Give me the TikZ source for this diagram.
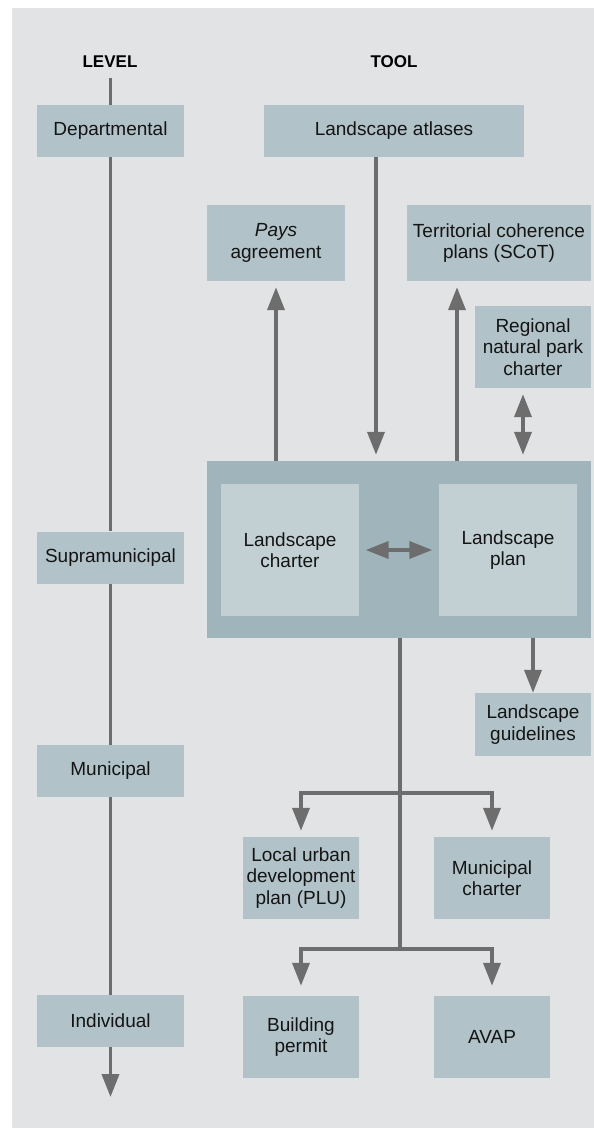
\documentclass[tikz,border=0pt]{standalone}
\usepackage{fontspec}
\setmainfont{Liberation Sans}
\usetikzlibrary{arrows.meta}
\definecolor{bgcol}{HTML}{E1E3E5}
\definecolor{boxcol}{HTML}{B1C3C9}
\definecolor{framecol}{HTML}{9FB5BB}
\definecolor{innercol}{HTML}{C2D0D4}
\definecolor{linecol}{HTML}{6D6D6D}
\definecolor{txtcol}{HTML}{141414}
\tikzset{
  lbl/.style={font=\fontsize{17}{20}\selectfont\bfseries, text=black},
  stepbox/.style={fill=boxcol, inner sep=0pt, align=center, text=txtcol,
    font=\fontsize{19}{21.5}\selectfont},
  conn/.style={draw=linecol, line width=3.8pt},
  arr/.style={conn, -{Triangle[length=23pt,width=17pt]}},
  darr/.style={conn, {Triangle[length=23pt,width=17pt]}-{Triangle[length=23pt,width=17pt]}}
}
\begin{document}
\begin{tikzpicture}[x=1pt,y=-1pt]
\useasboundingbox (0,0) rectangle (594,1128);
\fill[bgcol] (12,8) rectangle (594,1128);

% column headings
\node[lbl] (level) at (110,62) {LEVEL};
\node[lbl] (tool) at (394,62) {TOOL};

% level column
\node[stepbox, minimum width=147pt, minimum height=52pt] (dept) at (110.5,131) {Departmental};
\node[stepbox, minimum width=147pt, minimum height=52pt] (supra) at (110.5,557.5) {Supramunicipal};
\node[stepbox, minimum width=147pt, minimum height=52pt] (muni) at (110.5,771) {Municipal};
\node[stepbox, minimum width=147pt, minimum height=52pt] (indiv) at (110.5,1021) {Individual};
\coordinate (lvtop) at (110.5,78);
\coordinate (lvend) at (110.5,1097);

% tool column
\node[stepbox, minimum width=260pt, minimum height=52pt] (atlas) at (394,131) {Landscape atlases};
\node[stepbox, minimum width=138pt, minimum height=76pt] (pays) at (276,243) {\itshape Pays\\agreement};
\node[stepbox, minimum width=184pt, minimum height=76pt] (scot) at (499,243) {Territorial coherence\\plans (SCoT)};
\node[stepbox, minimum width=116pt, minimum height=82pt] (park) at (533,347) {Regional\\natural park\\charter};

\node[fill=framecol, inner sep=0pt, minimum width=384pt, minimum height=177pt] (frame) at (399,549.5) {};
\node[stepbox, fill=innercol, minimum width=138pt, minimum height=132pt] (charter) at (290,550) {Landscape\\charter};
\node[stepbox, fill=innercol, minimum width=138pt, minimum height=132pt] (plan) at (508,550) {Landscape\\plan};

\node[stepbox, minimum width=116pt, minimum height=63pt] (guide) at (533,724.5) {Landscape\\guidelines};
\node[stepbox, minimum width=116pt, minimum height=82pt] (plu) at (301,878) {Local urban\\development\\plan (PLU)};
\node[stepbox, minimum width=116pt, minimum height=82pt] (mcharter) at (492,878) {Municipal\\charter};
\node[stepbox, minimum width=116pt, minimum height=82pt] (permit) at (301,1037) {Building\\permit};
\node[stepbox, minimum width=116pt, minimum height=82pt] (avap) at (492,1037) {AVAP};

% x positions of the vertical connectors
\coordinate (xa) at (376,0);
\coordinate (xs) at (457,0);
\coordinate (xp) at (523,0);
\coordinate (b1) at (400,793);
\coordinate (b2) at (400,949);

% level axis
\draw[conn] (lvtop) -- (dept.north);
\draw[conn] (dept.south) -- (supra.north);
\draw[conn] (supra.south) -- (muni.north);
\draw[conn] (muni.south) -- (indiv.north);
\draw[arr] (indiv.south) -- (lvend);

% links around the landscape charter and plan
\draw[arr, shorten >=6pt] (atlas.south -| xa) -- (frame.north -| xa);
\draw[arr, shorten >=6pt] (frame.north -| pays.south) -- (pays.south);
\draw[arr, shorten >=6pt] (frame.north -| xs) -- (scot.south -| xs);
\draw[darr, shorten >=6pt, shorten <=6pt] (park.south -| xp) -- (frame.north -| xp);
\draw[darr, shorten >=6.5pt, shorten <=6.5pt] (charter.east) -- (plan.west);
\draw[arr] (frame.south -| guide.north) -- (guide.north);

% municipal and individual tools
\draw[conn] (frame.south -| b1) -- (b2);
\draw[arr, shorten >=6pt] (b1) -| (plu.north);
\draw[arr, shorten >=6pt] (b1) -| (mcharter.north);
\draw[arr, shorten >=10pt] (b2) -| (permit.north);
\draw[arr, shorten >=10pt] (b2) -| (avap.north);
\end{tikzpicture}
\end{document}
